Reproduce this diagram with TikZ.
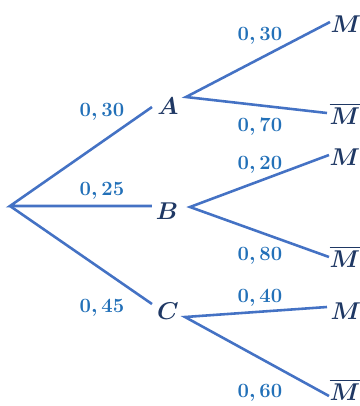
\documentclass[tikz,border=0pt]{standalone}
\usepackage{amsmath}
\usetikzlibrary{positioning}
\definecolor{branch}{RGB}{68,114,196}
\definecolor{prob}{RGB}{34,112,184}
\definecolor{event}{RGB}{31,56,100}

\begin{document}
\begin{tikzpicture}[x=0.03cm,y=-0.03cm,
ev/.style={text=event,inner sep=0pt,font=\fontsize{20}{22}\selectfont\boldmath},
pr/.style={text=prob,inner sep=0pt,font=\fontsize{17.5}{20}\selectfont\boldmath},
br/.style={draw=branch,line width=2.2pt}]
\useasboundingbox (0,0) rectangle (360,406);
\coordinate (O) at (10,206);
\node[ev] (A) at (168,106) {$A$};
\node[ev] (B) at (167,211) {$B$};
\node[ev] (C) at (168,311) {$C$};
\coordinate (A1) at (152,107);
\coordinate (B1) at (152,206);
\coordinate (C1) at (152,304);
\coordinate (A2) at (186,97);
\coordinate (B2) at (190,207);
\coordinate (C2) at (185,317);
\node[ev] (AM) at (346,24) {$M$};
\node[ev] (AN) at (345,114) {$\overline{M}$};
\node[ev] (BM) at (345,157) {$M$};
\node[ev] (BN) at (345,257) {$\overline{M}$};
\node[ev] (CM) at (346,311) {$M$};
\node[ev] (CN) at (345,390) {$\overline{M}$};
\coordinate (AM1) at (330,22);
\coordinate (AN1) at (327,113);
\coordinate (BM1) at (329,155);
\coordinate (BN1) at (329,257);
\coordinate (CM1) at (327,307);
\coordinate (CN1) at (329,396);
\draw[br] (A1)--(O)--(B1);
\draw[br] (O)--(C1);
\draw[br] (AM1)--(A2)--(AN1);
\draw[br] (BM1)--(B2)--(BN1);
\draw[br] (CM1)--(C2)--(CN1);
\node[pr] (pA) at (102,112) {$0,30$};
\node[pr] (pB) at (102,191) {$0,25$};
\node[pr] (pC) at (102,308) {$0,45$};
\node[pr] (pAM) at (260,36) {$0,30$};
\node[pr] (pAN) at (260,127) {$0,70$};
\node[pr] (pBM) at (260,165) {$0,20$};
\node[pr] (pBN) at (260,256) {$0,80$};
\node[pr] (pCM) at (260,298) {$0,40$};
\node[pr] (pCN) at (260,393) {$0,60$};
\end{tikzpicture}
\end{document}
